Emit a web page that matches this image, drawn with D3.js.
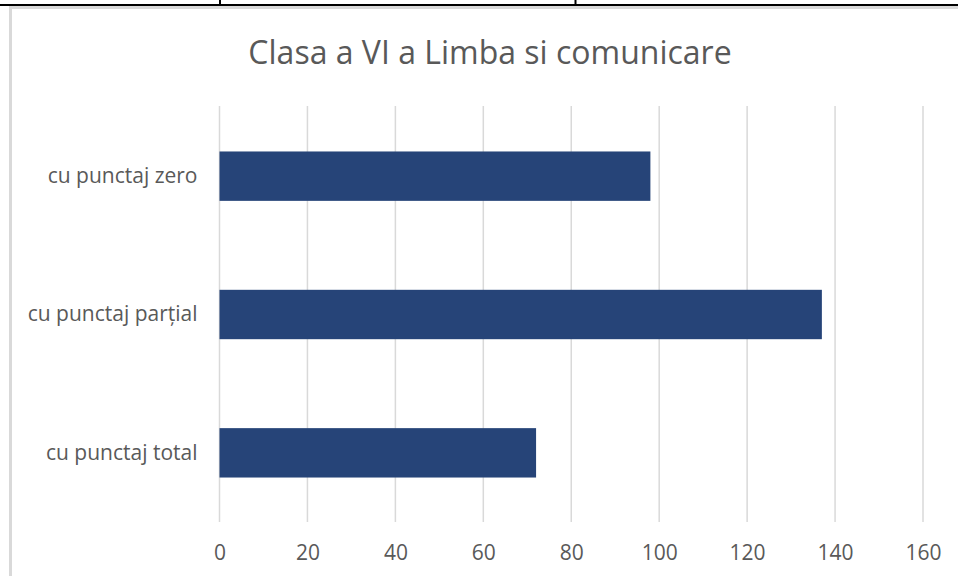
<!DOCTYPE html>
<html>
<head>
<meta charset="utf-8">
<script src="https://cdn.jsdelivr.net/npm/d3@7"></script>
<style>
  html, body { margin: 0; padding: 0; background: #fff; }
  svg { display: block; }
</style>
</head>
<body>
<svg id="chart" width="958" height="576"></svg>
<script>
// Chart content
const chartTitle = "Clasa a VI a Limba si comunicare";
const categories = ["cu punctaj zero", "cu punctaj parțial", "cu punctaj total"];
const values = [98, 137, 72];
const tickValues = [0, 20, 40, 60, 80, 100, 120, 140, 160];

const W = 958, H = 576;
const font = "'Open Sans', 'Noto Sans', sans-serif";
const textColor = "#595959";
const gridColor = "#d9d9d9";
const barColor = "#264478";

const svg = d3.select("#chart");

// Surrounding table rule and cell dividers
svg.append("rect").attr("x", 0).attr("y", 4).attr("width", W).attr("height", 2).attr("fill", "#000");
[220, 575.5].forEach(x => {
  svg.append("rect").attr("x", x - 1).attr("y", 0).attr("width", 2).attr("height", 4).attr("fill", "#000");
});

// Chart frame (light gray)
svg.append("rect")
  .attr("x", 10.5).attr("y", 7.5)
  .attr("width", W + 20).attr("height", H + 20)
  .attr("fill", "none").attr("stroke", gridColor).attr("stroke-width", 3);

// Scales
const x = d3.scaleLinear().domain([0, 160]).range([219.5, 923]);
const y = d3.scaleBand().domain(categories).range([107, 522])
  .paddingInner(0.643).paddingOuter(0.3215);

// Vertical gridlines
svg.append("g").selectAll("line").data(tickValues).join("line")
  .attr("x1", d => x(d)).attr("x2", d => x(d))
  .attr("y1", 106).attr("y2", 522)
  .attr("stroke", gridColor).attr("stroke-width", 1.5);

// Bars
svg.append("g").selectAll("rect").data(categories).join("rect")
  .attr("x", x(0))
  .attr("y", d => y(d))
  .attr("width", (d, i) => x(values[i]) - x(0))
  .attr("height", y.bandwidth())
  .attr("fill", barColor);

// Bottom axis labels
const xAxis = d3.axisBottom(x).tickValues(tickValues).tickSize(0).tickPadding(0).tickFormat(d3.format("d"));
const gx = svg.append("g").attr("transform", "translate(0,545)").call(xAxis);
gx.select(".domain").remove();
gx.selectAll("text")
  .attr("fill", textColor)
  .style("font-family", font).style("font-size", "21px");

// Category labels
const yAxis = d3.axisLeft(y).tickSize(0).tickPadding(22);
const gy = svg.append("g").attr("transform", `translate(${x(0)},0)`).call(yAxis);
gy.select(".domain").remove();
gy.selectAll("text")
  .attr("fill", textColor)
  .style("font-family", font).style("font-size", "21px");

// Title
svg.append("text")
  .attr("x", 490).attr("y", 64)
  .attr("text-anchor", "middle")
  .attr("fill", textColor)
  .style("font-family", font).style("font-size", "32px")
  .text(chartTitle);
</script>
</body>
</html>
